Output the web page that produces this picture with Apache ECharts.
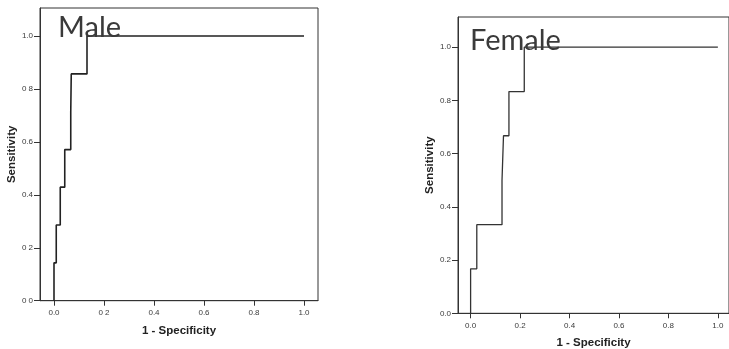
<!DOCTYPE html>
<html>
<head>
<meta charset="utf-8">
<script src="https://cdn.jsdelivr.net/npm/echarts@6/dist/echarts.min.js"></script>
<style>
  html, body { margin: 0; padding: 0; background: #fff; }
  #content { width: 729px; height: 349px; }
</style>
</head>
<body>
<div id="content"></div>
<script>
// ROC 曲线的拐点 (1 - Specificity, Sensitivity)
var maleFpr = [0.0, 0.0, 0.009, 0.009, 0.025, 0.025, 0.043, 0.043, 0.067, 0.067, 0.069, 0.069, 0.132, 0.132, 1.0];
var maleTpr = [0.0, 0.143, 0.143, 0.286, 0.286, 0.429, 0.429, 0.571, 0.571, 0.714, 0.714, 0.857, 0.857, 1.0, 1.0];

var femaleFpr = [0.0, 0.0, 0.025, 0.025, 0.127, 0.127, 0.133, 0.133, 0.155, 0.155, 0.217, 0.217, 1.0];
var femaleTpr = [0.0, 0.167, 0.167, 0.333, 0.333, 0.5, 0.5, 0.667, 0.667, 0.833, 0.833, 1.0, 1.0];

var tickValues = [0, 0.2, 0.4, 0.6, 0.8, 1.0];
var maleTickLabels = ["0 0", "0 2", "0.4", "0.6", "0 8", "1.0"];
var femaleTickLabels = ["0.0", "0.2", "0.4", "0.6", "0.8", "1.0"];
var maleXLabels = ["0.0", "0 2", "0.4", "0.6", "0.8", "1.0"];
var femaleXLabels = ["0.0", "0.2", "0.4", "0.6", "0.8", "1.0"];

function pairs(xs, ys) {
    var out = [];
    for (var i = 0; i < xs.length; i++) {
        out.push([xs[i], ys[i]]);
    }
    return out;
}

function xAxisOf(idx, labels, xmin, xmax, nameGap) {
    return {
        type: "value",
        gridIndex: idx,
        min: xmin,
        max: xmax,
        name: "1 - Specificity",
        nameLocation: "middle",
        nameGap: nameGap,
        nameTextStyle: { fontFamily: "Liberation Sans", fontWeight: "bold", fontSize: 11.5, color: "#222" },
        axisLine: { show: true, onZero: false, lineStyle: { color: "#333", width: 1 } },
        axisTick: { show: true, length: 5, customValues: tickValues, lineStyle: { color: "#333" } },
        axisLabel: {
            customValues: tickValues,
            fontSize: 8,
            color: "#3a3a3a",
            margin: 8,
            fontFamily: "Liberation Sans",
            formatter: function(v) {
                var k = Math.round(v * 5);
                return labels[k];
            }
        },
        splitLine: { show: false }
    };
}

function yAxisOf(idx, labels, ymax, nameGap) {
    return {
        type: "value",
        gridIndex: idx,
        min: 0,
        max: ymax,
        name: "Sensitivity",
        nameLocation: "middle",
        nameGap: nameGap,
        nameTextStyle: { fontFamily: "Liberation Sans", fontWeight: "bold", fontSize: 11.5, color: "#222" },
        axisLine: { show: true, onZero: false, lineStyle: { color: "#333", width: 1 } },
        axisTick: { show: true, length: 6, customValues: tickValues, lineStyle: { color: "#333" } },
        axisLabel: {
            customValues: tickValues,
            fontSize: 8,
            color: "#3a3a3a",
            margin: 7,
            fontFamily: "Liberation Sans",
            formatter: function(v) {
                var k = Math.round(v * 5);
                return labels[k];
            }
        },
        splitLine: { show: false }
    };
}

var myChart = echarts.init(document.getElementById("content"));

myChart.setOption({
    backgroundColor: "#fff",
    animation: false,
    title: [{
        text: "Male",
        left: 53,
        top: 8,
        textStyle: { fontFamily: "Lato", fontWeight: "normal", fontSize: 29, color: "#3a3a3a" }
    }, {
        text: "Female",
        left: 465,
        top: 21,
        textStyle: { fontFamily: "Lato", fontWeight: "normal", fontSize: 29, color: "#3a3a3a" }
    }],
    grid: [{
        left: 40, top: 8, width: 278, height: 292.7,
        outerBoundsMode: "none",
        show: true, borderColor: "#333", borderWidth: 1, backgroundColor: "transparent"
    }, {
        left: 458, top: 17, width: 271, height: 296.3,
        outerBoundsMode: "none",
        show: true, borderColor: "#333", borderWidth: 1, backgroundColor: "transparent"
    }],
    xAxis: [xAxisOf(0, maleXLabels, -0.056, 1.056, 24), xAxisOf(1, femaleXLabels, -0.051, 1.045, 24)],
    yAxis: [yAxisOf(0, maleTickLabels, 1.106, 16), yAxisOf(1, femaleTickLabels, 1.113, 13)],
    series: [{
        type: "line",
        name: "Male",
        xAxisIndex: 0,
        yAxisIndex: 0,
        data: pairs(maleFpr, maleTpr),
        showSymbol: false,
        lineStyle: { color: "#222", width: 1.6 }
    }, {
        type: "line",
        name: "Female",
        xAxisIndex: 1,
        yAxisIndex: 1,
        data: pairs(femaleFpr, femaleTpr),
        showSymbol: false,
        lineStyle: { color: "#333", width: 1.3 }
    }]
});
</script>
</body>
</html>
